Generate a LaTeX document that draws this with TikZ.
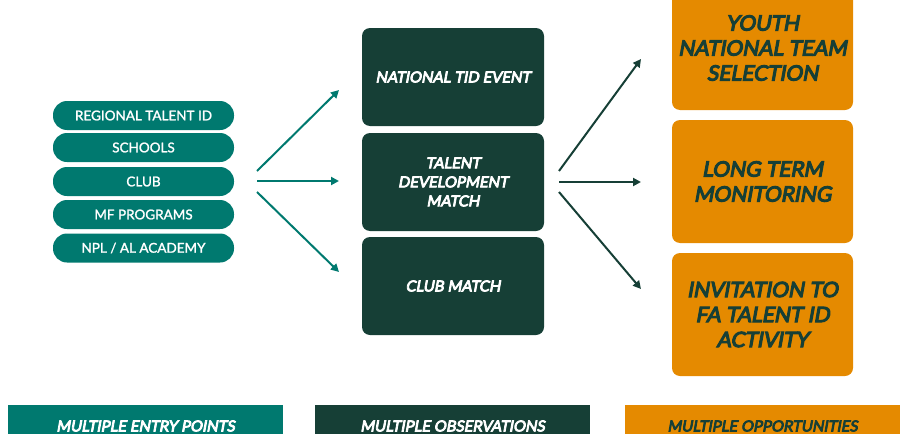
\documentclass[tikz,border=0pt]{standalone}
\usepackage{fontspec}
\setmainfont{Lato}
\newfontfamily\heavyit{Lato}[FakeBold=5.5, FakeSlant=0.18]
\newfontfamily\pillfont{Lato}[FakeBold=1.5]
\usetikzlibrary{arrows.meta}
\definecolor{teal1}{HTML}{00796F}
\definecolor{dkgreen}{HTML}{163F36}
\definecolor{orng}{HTML}{E58A00}
\tikzset{
  pill/.style={fill=teal1, rounded corners=14pt, minimum width=181pt, minimum height=29pt, inner sep=0pt, text=white, font=\pillfont\fontsize{13.5}{15}\selectfont},
  midbox/.style={fill=dkgreen, rounded corners=8pt, minimum width=182pt, minimum height=98pt, inner sep=0pt, text=white, align=center, font=\heavyit\fontsize{15}{19}\selectfont},
  rbox/.style={fill=orng, rounded corners=8pt, minimum width=181pt, minimum height=123pt, inner sep=0pt, text=dkgreen, align=center, font=\heavyit\fontsize{21}{25}\selectfont},
  bar/.style={minimum width=275pt, minimum height=35pt, inner sep=0pt, anchor=north},
  bartext/.style={font=\heavyit\fontsize{15}{17}\selectfont},
  arr/.style={line width=2pt, -{Triangle[length=8pt,width=8pt]}},
}
\begin{document}
\begin{tikzpicture}[x=1pt,y=-1pt]
\useasboundingbox (0,0) rectangle (906,434);
% left pills
\node[pill] (p1) at (143.5,115.5) {REGIONAL TALENT ID};
\node[pill] (p2) at (143.5,147.5) {SCHOOLS};
\node[pill] (p3) at (143.5,181.5) {CLUB};
\node[pill] (p4) at (143.5,214.5) {MF PROGRAMS};
\node[pill] (p5) at (143.5,248) {NPL / AL ACADEMY};
% middle boxes
\node[midbox] (m1) at (453,77) {NATIONAL TID EVENT};
\node[midbox] (m2) at (453,182) {TALENT\\DEVELOPMENT\\MATCH};
\node[midbox] (m3) at (453,286) {CLUB MATCH};
% right boxes
\node[rbox, minimum height=124pt] (r1) at (762.5,48) {YOUTH\\NATIONAL TEAM\\SELECTION};
\node[rbox] (r2) at (762.5,181.5) {LONG TERM\\MONITORING};
\node[rbox] (r3) at (762.5,314.5) {INVITATION TO\\FA TALENT ID\\ACTIVITY};
% left arrows
\coordinate (la1) at (257,171);
\coordinate (la2) at (257,181);
\coordinate (la3) at (257,192);
\coordinate (lb1) at (339,90);
\coordinate (lb2) at (339,181);
\coordinate (lb3) at (339,272);
\draw[arr, teal1] (la1) -- (lb1);
\draw[arr, teal1] (la2) -- (lb2);
\draw[arr, teal1] (la3) -- (lb3);
% right arrows
\coordinate (ra1) at (559,171);
\coordinate (ra2) at (559,182);
\coordinate (ra3) at (559,192);
\coordinate (rb1) at (641,59);
\coordinate (rb2) at (641,182);
\coordinate (rb3) at (641,289);
\draw[arr, dkgreen] (ra1) -- (rb1);
\draw[arr, dkgreen] (ra2) -- (rb2);
\draw[arr, dkgreen] (ra3) -- (rb3);
% bottom bars
\node[bar, fill=teal1] (b1) at (145.5,405) {};
\node[bar, fill=dkgreen] (b2) at (452.5,405) {};
\node[bar, fill=orng] (b3) at (762.5,405) {};
\node[bartext, text=white] (t1) at (145.5,426) {MULTIPLE ENTRY POINTS};
\node[bartext, text=white] (t2) at (452.5,426) {MULTIPLE OBSERVATIONS};
\node[bartext, text=dkgreen] (t3) at (762.5,426) {MULTIPLE OPPORTUNITIES};
\end{tikzpicture}
\end{document}
